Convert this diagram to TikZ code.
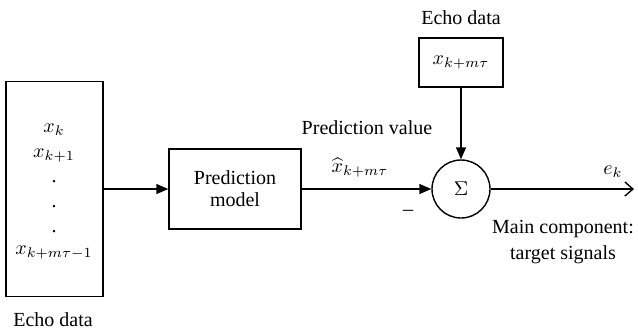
\documentclass[tikz,border=0pt]{standalone}
\usepackage{fontspec}
\setmainfont{Liberation Serif}
\usetikzlibrary{arrows.meta}
\tikzset{
  blk/.style={draw, line width=0.7pt, inner sep=0pt, align=center},
  lnk/.style={line width=0.7pt, -{Triangle[length=6pt,width=5pt]}},
  lbl/.style={inner sep=0pt, align=center},
}
\begin{document}
\begin{tikzpicture}[x=0.5pt, y=-0.5pt, font=\fontsize{10}{12}\selectfont]
\useasboundingbox (0,0) rectangle (638,334);
% boxes
\node[blk, minimum width=48.5pt, minimum height=107.5pt] (ebox) at (54.5,189) {};
\node[blk, minimum width=66pt, minimum height=40pt] (pbox) at (235,189) {Prediction\\[-1pt]model};
\node[blk, circle, minimum size=29pt] (sum) at (461,189) {$\Sigma$};
\node[blk, minimum width=42pt, minimum height=24.5pt] (tbox) at (461,62.5) {$x_{k+m\tau}$};
\coordinate (out) at (634,189);
% contents of the echo box
\node[lbl] (x0) at (54,130) {$x_k$};
\node[lbl] (x1) at (54,156) {$x_{k+1}$};
\foreach \y [count=\i] in {182,207,232}
  \node[lbl, anchor=base] (d\i) at (54,\y) {.};
\node[lbl] (xn) at (54,253) {$x_{k+m\tau-1}$};
% labels
\node[lbl] (echoa) at (53,320) {Echo data};
\node[lbl] (echob) at (461,18) {Echo data};
\node[lbl] (pval) at (367,128) {Prediction value};
\node[lbl] (xhat) at (360,168) {$\widehat{x}_{k+m\tau}$};
\node[lbl] (minus) at (408,213) {--};
\node[lbl] (ek) at (613,172) {$e_k$};
\node[lbl] (main) at (563,242) {Main component:\\[1pt]target signals};
% connectors
\draw[lnk] (ebox) -- (pbox);
\draw[lnk] (pbox) -- (sum);
\draw[lnk] (tbox) -- (sum);
\draw[line width=0.7pt, -{Straight Barb[length=4pt,width=7pt]}] (sum) -- (out);
\end{tikzpicture}
\end{document}
